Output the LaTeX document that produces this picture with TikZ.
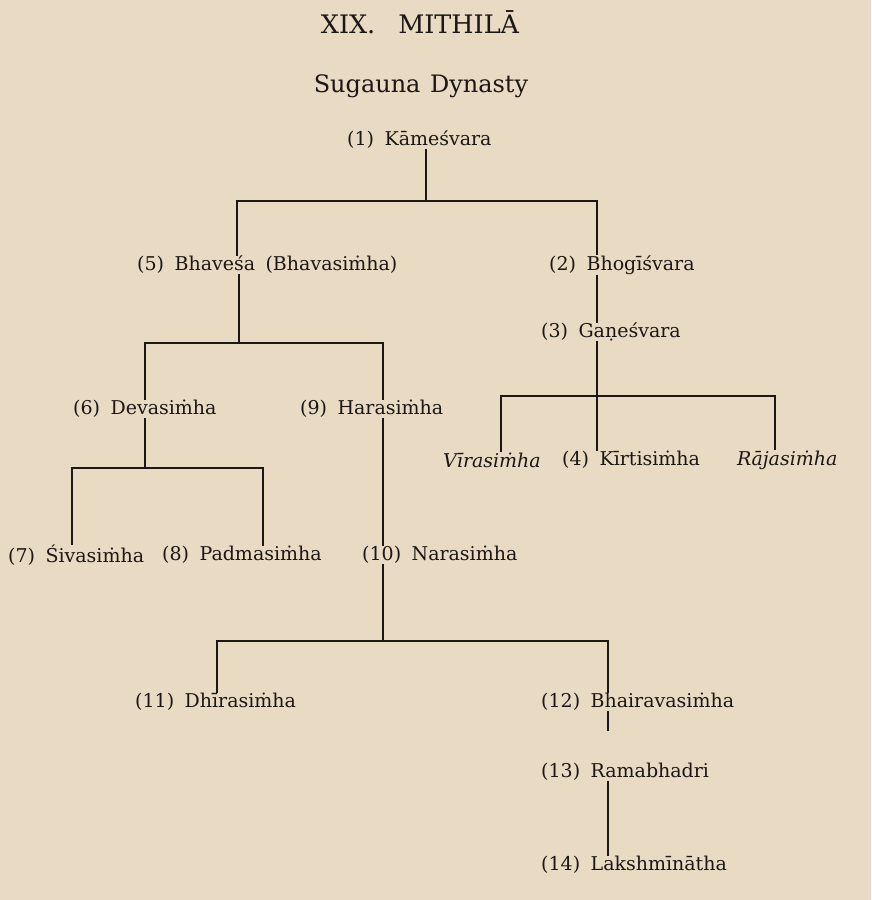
\documentclass[tikz,border=0pt]{standalone}
\usepackage{fontspec}
\setmainfont{DejaVu Serif}
\definecolor{paper}{RGB}{232,218,195}
\definecolor{ink}{RGB}{28,23,20}
\begin{document}
\begin{tikzpicture}[x=1pt,y=-1pt,
  person/.style={anchor=west,inner sep=0pt,text=ink,font=\fontsize{19}{22}\selectfont},
  headline/.style={inner sep=0pt,text=ink,font=\fontsize{25.5}{30}\selectfont},
  subline/.style={inner sep=0pt,text=ink,font=\fontsize{24}{28}\selectfont},
  link/.style={draw=ink,line width=1.3pt}]
\fill[paper] (0,0) rectangle (871,900);
\useasboundingbox (0,0) rectangle (871,900);
\newcommand{\gp}{\hspace{0.55em}}
% titles
\node[headline] (title) at (420,22) {XIX.\hspace{0.9em}MITHILĀ};
\node[subline] (sub) at (421,86) {Sugauna\hspace{0.4em}Dynasty};
% persons
\node[person] (n1) at (347,140) {(1)\gp Kāmeśvara};
\node[person] (n5) at (137,265) {(5)\gp Bhaveśa\gp (Bhavasiṁha)};
\node[person] (n2) at (549,265) {(2)\gp Bhogīśvara};
\node[person] (n3) at (541,332) {(3)\gp Gaṇeśvara};
\node[person] (n6) at (73,409) {(6)\gp Devasiṁha};
\node[person] (n9) at (300,409) {(9)\gp Harasiṁha};
\node[person] (vira) at (443,460) {\itshape Vīrasiṁha};
\node[person] (n4) at (562,460) {(4)\gp Kīrtisiṁha};
\node[person] (raja) at (737,460) {\itshape Rājasiṁha};
\node[person] (n7) at (8,555) {(7)\gp Śivasiṁha};
\node[person] (n8) at (162,555) {(8)\gp Padmasiṁha};
\node[person] (n10) at (362,555) {(10)\gp Narasiṁha};
\node[person] (n11) at (135,702) {(11)\gp Dhīrasiṁha};
\node[person] (n12) at (541,702) {(12)\gp Bhairavasiṁha};
\node[person] (n13) at (541,772) {(13)\gp Ramabhadri};
\node[person] (n14) at (541,865) {(14)\gp Lakshmīnātha};
% bar coordinates
\coordinate (s1) at (426,201); \coordinate (l1) at (237,201); \coordinate (r1) at (597,201);
\coordinate (s2) at (239,343); \coordinate (l2) at (145,343); \coordinate (r2) at (383,343);
\coordinate (s3) at (597,396); \coordinate (l3) at (501,396); \coordinate (r3) at (775,396);
\coordinate (s4) at (145,468); \coordinate (l4) at (72,468); \coordinate (r4) at (263,468);
\coordinate (s5) at (383,641); \coordinate (l5) at (217,641); \coordinate (r5) at (608,641);
\coordinate (c12) at (608,0); \coordinate (c2) at (597,0);
\coordinate (e12) at (608,731);
% family 1
\draw[link] (s1 |- n1.south) -- (s1);
\draw[link] (l1 |- n5.north) -- (l1) -- (r1) -- (r1 |- n2.north);
% line 2 -> 3
\draw[link] (c2 |- n2.south) -- (c2 |- n3.north);
% family 3
\draw[link] (s3 |- n3.south) -- (s3);
\draw[link] (l3 |- vira.north) -- (l3) -- (r3) -- (r3 |- raja.north);
\draw[link] (s3) -- (s3 |- n4.north);
% family 5
\draw[link] (s2 |- n5.south) -- (s2);
\draw[link] (l2 |- n6.north) -- (l2) -- (r2) -- (r2 |- n9.north);
% family 6
\draw[link] (s4 |- n6.south) -- (s4);
\draw[link] (l4 |- n7.north) -- (l4) -- (r4) -- (r4 |- n8.north);
% 9 -> 10
\draw[link] (r2 |- n9.south) -- (r2 |- n10.north);
% family 10
\draw[link] (s5 |- n10.south) -- (s5);
\draw[link] (l5 |- n11.north) -- (l5) -- (r5) -- (r5 |- n12.north);
% 12 -> 13 -> 14
\draw[link] (c12 |- n12.south) -- (e12);
\draw[link] (c12 |- n13.south) -- (c12 |- n14.north);
\end{tikzpicture}
\end{document}
